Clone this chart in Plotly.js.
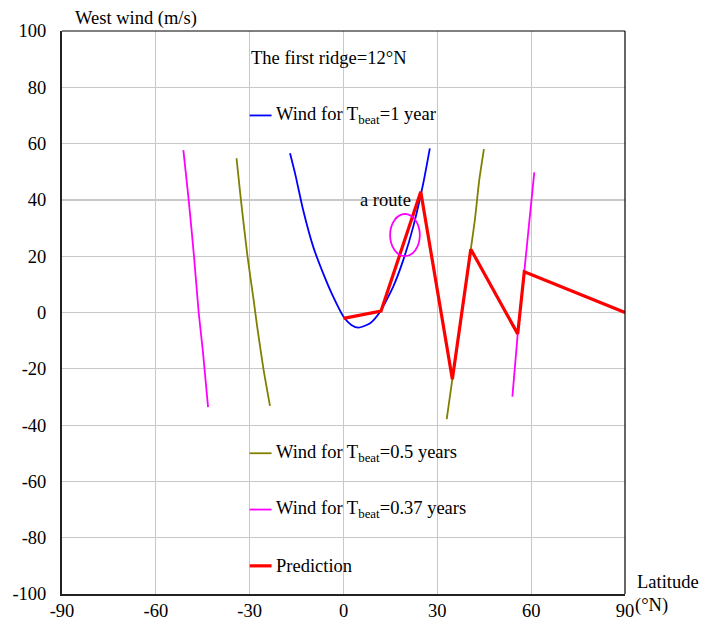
<!DOCTYPE html>
<html>
<head>
<meta charset="utf-8">
<script src="https://cdn.plot.ly/plotly-3.0.1.min.js"></script>
<style>
  html, body { margin: 0; padding: 0; background: #fff; }
  #chart { width: 702px; height: 625px; }
</style>
</head>
<body>
<div id="chart"></div>
<script>
// West wind profiles vs latitude and the predicted route
const windOneYearLat = [-17.1, -15.5, -12.9, -9.7, -6.5, -3.3, 0, 2.5, 4.8, 8.5, 11.7, 15.9, 19.1, 22.3, 25.5, 27.6];
const windOneYearU   = [56.6, 49.5, 36.4, 23.4, 13.9, 5.6, -1.5, -4.4, -5.4, -3.8, 0.3, 9.2, 18.6, 30.5, 45.9, 58.3];

const windHalfYearSouthLat = [-34.2, -32.8, -30.7, -28.8, -27.6, -25.6, -23.5];
const windHalfYearSouthU   = [54.8, 40, 20, 5, -5, -20, -33.2];
const windHalfYearNorthLat = [33.0, 34.8, 37.0, 39.0, 40.7, 42.0, 43.4, 44.9];
const windHalfYearNorthU   = [-37.9, -23.7, -7, 9, 22.5, 32.9, 47, 58];

const wind037SouthLat = [-51.2, -49.5, -47.8, -46.3, -45.0, -43.3];
const wind037SouthU   = [57.7, 40, 20, 0, -13.3, -33.6];
const wind037NorthLat = [54.0, 55.7, 57.8, 59.2, 61.0];
const wind037NorthU   = [-29.9, -7.6, 14.5, 30, 49.8];

const predictionLat = [0, 12, 24.7, 34.8, 40.7, 55.7, 57.8, 90];
const predictionU   = [-2.1, 0.5, 42.9, -23.7, 22.5, -7.6, 14.5, 0];

const xTicks = [-90, -60, -30, 0, 30, 60, 90];
const yTicks = [-100, -80, -60, -40, -20, 0, 20, 40, 60, 80, 100];

const legendLabels = [
  'Wind for T<sub>beat</sub>=1 year',
  'Wind for T<sub>beat</sub>=0.5 years',
  'Wind for T<sub>beat</sub>=0.37 years',
  'Prediction'
];
const legendRows = [70, -50, -70, -90];
const ridgeNote = 'The first ridge=12°N';
const routeNote = 'a route';

const colors = { one: '#0000ff', half: '#808000', p37: '#ff00ff', pred: '#ff0000' };
const widths = [1.8, 1.8, 1.8, 3.2];
const serif = 'Liberation Serif, Times New Roman, serif';

function line(x, y, color, width, shape) {
  return { x, y, type: 'scatter', mode: 'lines', hoverinfo: 'skip', showlegend: false,
           line: { color, width, shape: shape || 'linear', smoothing: 0.6 } };
}

const traces = [
  line(windOneYearLat, windOneYearU, colors.one, widths[0], 'spline'),
  line(windHalfYearSouthLat, windHalfYearSouthU, colors.half, widths[1], 'spline'),
  line(windHalfYearNorthLat, windHalfYearNorthU, colors.half, widths[1], 'spline'),
  line(wind037SouthLat, wind037SouthU, colors.p37, widths[2], 'spline'),
  line(wind037NorthLat, wind037NorthU, colors.p37, widths[2], 'spline'),
  line(predictionLat, predictionU, colors.pred, widths[3])
];

// in-plot key: short line sample followed by its label
const keyColors = [colors.one, colors.half, colors.p37, colors.pred];
const shapes = legendRows.map((yv, i) => ({
  type: 'line', xref: 'x', yref: 'y', x0: -30, x1: -23, y0: yv, y1: yv,
  line: { color: keyColors[i], width: widths[i] }
}));
// the circled crossing
shapes.push({ type: 'circle', xref: 'x', yref: 'y', x0: 14.9, x1: 24.4, y0: 20, y1: 35,
              line: { color: colors.p37, width: 1.8 }, layer: 'above' });
// thin frame on the top and right edges
shapes.push({ type: 'line', xref: 'paper', yref: 'paper', x0: 0, x1: 1, y0: 1, y1: 1, line: { color: '#000', width: 1 } });
shapes.push({ type: 'line', xref: 'paper', yref: 'paper', x0: 1, x1: 1, y0: 0, y1: 1, line: { color: '#000', width: 1.2 } });

const textFont = { family: serif, size: 18.5, color: '#000' };
const annotations = legendLabels.map((t, i) => ({
  text: t, xref: 'x', yref: 'y', x: -22.2, y: legendRows[i], xanchor: 'left', yanchor: 'middle',
  showarrow: false, font: textFont
}));
annotations.push({ text: ridgeNote, xref: 'x', yref: 'y', x: -30.3, y: 90.3, xanchor: 'left', yanchor: 'middle', showarrow: false, font: textFont });
annotations.push({ text: routeNote, xref: 'x', yref: 'y', x: 13.3, y: 40, xanchor: 'center', yanchor: 'middle', showarrow: false, font: textFont });
annotations.push({ text: 'West wind (m/s)', xref: 'paper', yref: 'paper', x: 11 / 563, y: 1, xanchor: 'left', yanchor: 'bottom', yshift: 0, showarrow: false, font: textFont });
annotations.push({ text: 'Latitude', xref: 'paper', yref: 'paper', x: 1, xshift: 10, y: 0, yshift: 0, xanchor: 'left', yanchor: 'bottom', showarrow: false, font: textFont });
annotations.push({ text: '(°N)', xref: 'paper', yref: 'paper', x: 1, xshift: 8, y: 0, yshift: -11, xanchor: 'left', yanchor: 'middle', showarrow: false, font: textFont });

const layout = {
  width: 702, height: 625,
  margin: { l: 62, r: 77, t: 31, b: 31, pad: 0 },
  paper_bgcolor: '#fff', plot_bgcolor: '#fff',
  showlegend: false,
  font: { family: serif, size: 18.5, color: '#000' },
  xaxis: {
    range: [-90, 90], tickvals: xTicks, ticktext: xTicks.map(String),
    showgrid: true, gridcolor: '#c8c8c8', gridwidth: 1.2, zeroline: false,
    showline: true, linecolor: '#222', linewidth: 2,
    ticks: '', ticklabelstandoff: -1, tickfont: textFont, fixedrange: true
  },
  yaxis: {
    range: [-100, 100], tickvals: yTicks, ticktext: yTicks.map(String),
    showgrid: true, gridcolor: '#c8c8c8', gridwidth: 1.2, zeroline: false,
    showline: true, linecolor: '#222', linewidth: 2,
    ticks: '', ticklabelstandoff: 10, tickfont: textFont, fixedrange: true
  },
  shapes, annotations
};

Plotly.newPlot('chart', traces, layout, { staticPlot: true, displayModeBar: false });
</script>
</body>
</html>
